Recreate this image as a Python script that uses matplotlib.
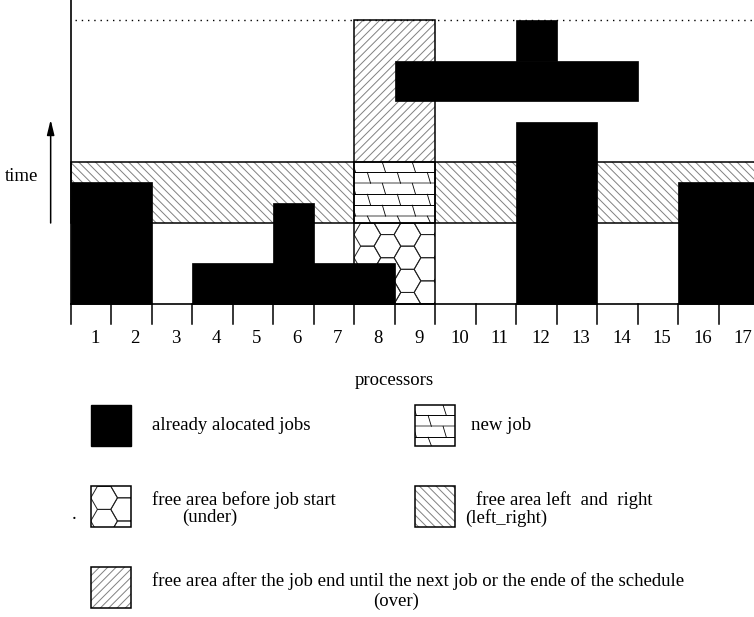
import numpy as np
import matplotlib.pyplot as plt
from matplotlib.patches import Rectangle, RegularPolygon

plt.rcParams['font.family'] = ['Liberation Serif', 'DejaVu Serif']
plt.rcParams['hatch.linewidth'] = 0.7

# schedule data: (first processor, last processor, start time, end time)
processors = list(range(1, 18))
allocated_jobs = [(1, 2, 0, 3), (4, 8, 0, 1), (6, 6, 0, 2.5), (12, 13, 0, 4.5),
                  (16, 17, 0, 3), (9, 14, 5, 6), (12, 12, 6, 7)]
new_job = (8, 9, 2, 3.5)
under_area = (8, 9, 0, 2)
over_area = (8, 9, 3.5, 7)
left_right_areas = [(1, 7, 2, 3.5), (10, 17, 2, 3.5)]
schedule_end = 7

legend_labels = ['already alocated jobs', 'new job',
                 'free area before job start', 'free area left  and  right',
                 'free area after the job end until the next job or the ende of the schedule']
legend_short = ['(under)', '(left_right)', '(over)']

U = 40.5  # pixels per unit
FS = 13.5
HATCH_GRAY = '#808080'


def box(job):
    p0, p1, t0, t1 = job
    return p0 - 1, t0, p1 - p0 + 1, t1 - t0


def hatched(ax, x, y, w, h, hatch):
    ax.add_patch(Rectangle((x, y), w, h, facecolor='white', edgecolor=HATCH_GRAY,
                           hatch=hatch, linewidth=0, zorder=1))


def outline(ax, x, y, w, h, lw=1.1):
    ax.add_patch(Rectangle((x, y), w, h, fill=False, edgecolor='black',
                           linewidth=lw, zorder=3))


def bricks(ax, x, y, w, h):
    clip = Rectangle((x, y), w, h, transform=ax.transData)
    top = y + h
    levels = [top]
    yy = top - 0.25
    i = 0
    while yy > y + 0.02:
        gray = (i % 3 == 1)
        ln, = ax.plot([x, x + w], [yy, yy], color='#9a9a9a' if gray else 'black',
                      lw=1.3 if gray else 0.7, zorder=2)
        ln.set_clip_path(clip)
        levels.append(yy)
        yy -= 0.27
        i += 1
    levels.append(y)
    for r in range(len(levels) - 1):
        phase = 0.7 if r % 2 == 0 else 0.33
        xs = x + phase - 0.74
        while xs < x + w:
            ln, = ax.plot([xs, xs + 0.08], [levels[r], levels[r + 1]],
                          color='black', lw=0.6, zorder=2)
            ln.set_clip_path(clip)
            xs += 0.74


def honeycomb(ax, x, y, w, h, r=0.33):
    clip = Rectangle((x, y), w, h, transform=ax.transData)
    hh = r * np.sqrt(3) / 2
    top = y + h
    j = 0
    while x + r + (j - 1) * 1.5 * r < x + w + r:
        cx = x + r + j * 1.5 * r
        cy = top - hh - (j % 2) * hh + 2 * hh
        while cy > y - 2 * hh:
            hexa = RegularPolygon((cx, cy), 6, radius=r, orientation=np.pi / 6,
                                  fill=False, edgecolor='#222222', linewidth=0.7,
                                  zorder=2)
            ax.add_patch(hexa)
            hexa.set_clip_path(clip)
            cy -= 2 * hh
        j += 1


fig = plt.figure(figsize=(7.54, 6.17), dpi=100)
ax = fig.add_axes([0, 0, 1, 1])
ax.set_xlim(-70.5 / U, (754 - 70.5) / U)
ax.set_ylim(-(617 - 304) / U, 304 / U)
ax.axis('off')

# free areas
hatched(ax, *box(over_area), '////')
outline(ax, *box(over_area))
for a in left_right_areas:
    hatched(ax, *box(a), '\\\\\\\\')
    outline(ax, *box(a))
bricks(ax, *box(new_job))
outline(ax, *box(new_job))
honeycomb(ax, *box(under_area))
outline(ax, *box(under_area))

# already allocated jobs
for job in allocated_jobs:
    ax.add_patch(Rectangle(box(job)[:2], box(job)[2], box(job)[3],
                           facecolor='black', edgecolor='black', lw=0.5, zorder=4))

# end of schedule
ax.plot([0.1, len(processors)], [schedule_end, schedule_end], color='black',
        lw=1.0, linestyle=(0, (1, 3.5)), zorder=5)

# axes
ax.plot([0, 0], [0, 7.6], color='black', lw=1.2, zorder=6)
ax.plot([0, len(processors)], [0, 0], color='black', lw=1.2, zorder=6)
for i in range(len(processors) + 1):
    ax.plot([i, i], [0, -0.49], color='black', lw=1.1, zorder=6)
for p in processors:
    ax.text(p - 0.5 + 0.1, -0.84, str(p), ha='center', va='center', fontsize=FS)

ax.text(8.0, -1.88, 'processors', ha='center', va='center', fontsize=FS)
ax.text(-1.2, 3.14, 'time', ha='center', va='center', fontsize=FS)
ax.annotate('', xy=(-0.49, 4.55), xytext=(-0.49, 2.0),
            arrowprops=dict(arrowstyle='-|>,head_length=0.9,head_width=0.22',
                            color='black', lw=1.1, mutation_scale=10,
                            shrinkA=0, shrinkB=0))

# legend
ax.add_patch(Rectangle((0.5, -3.5), 1, 1, facecolor='black', edgecolor='black', lw=1))
bricks(ax, 8.5, -3.5, 1, 1)
outline(ax, 8.5, -3.5, 1, 1)
honeycomb(ax, 0.5, -5.5, 1, 1)
outline(ax, 0.5, -5.5, 1, 1)
hatched(ax, 8.5, -5.5, 1, 1, '\\\\\\\\')
outline(ax, 8.5, -5.5, 1, 1)
hatched(ax, 0.5, -7.5, 1, 1, '////')
outline(ax, 0.5, -7.5, 1, 1)

ax.text(2.0, -3.0, legend_labels[0], ha='left', va='center', fontsize=FS)
ax.text(9.9, -3.0, legend_labels[1], ha='left', va='center', fontsize=FS)
ax.text(2.0, -4.83, legend_labels[2], ha='left', va='center', fontsize=FS)
ax.text(3.45, -5.28, legend_short[0], ha='center', va='center', fontsize=FS)
ax.text(10.0, -4.83, legend_labels[3], ha='left', va='center', fontsize=FS)
ax.text(10.75, -5.28, legend_short[1], ha='center', va='center', fontsize=FS)
ax.text(2.0, -6.85, legend_labels[4], ha='left', va='center', fontsize=FS)
ax.text(8.05, -7.33, legend_short[2], ha='center', va='center', fontsize=FS)
ax.text(0.09, -5.2, '.', ha='center', va='center', fontsize=FS)

fig.savefig('out.png', dpi=100)
